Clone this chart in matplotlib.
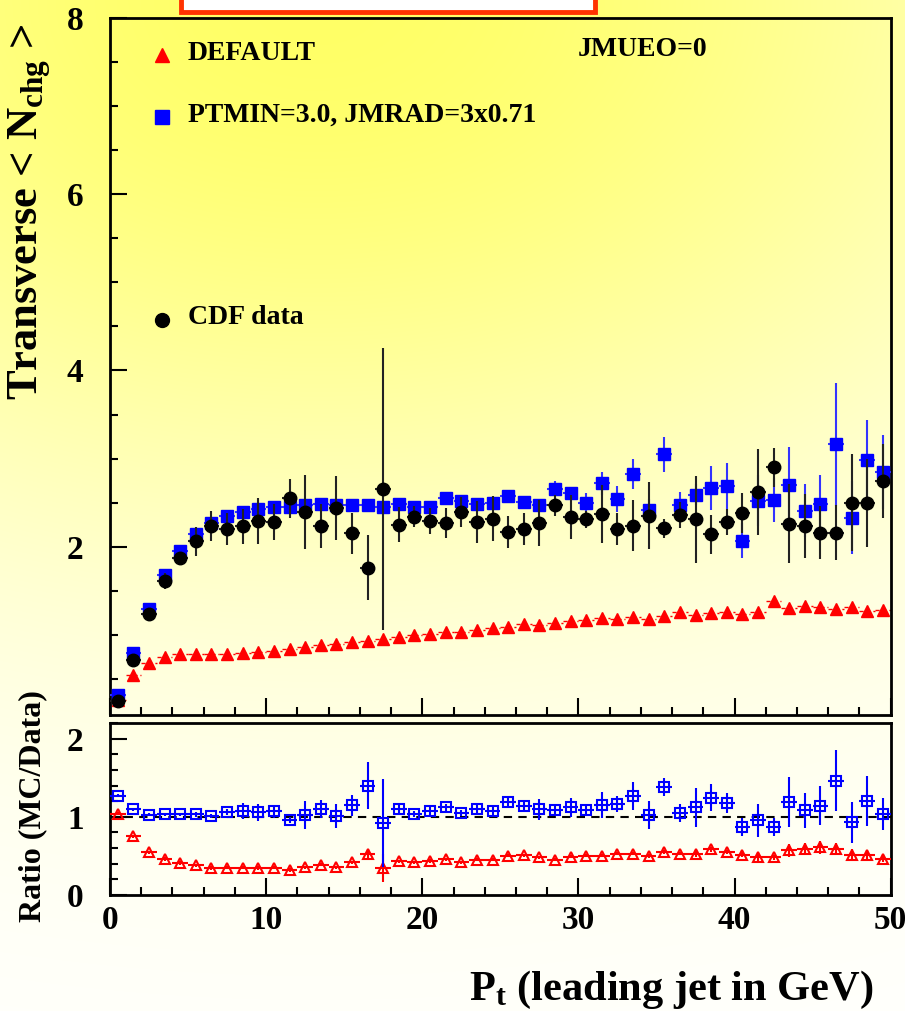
import numpy as np
import matplotlib
matplotlib.use("Agg")
import matplotlib.pyplot as plt
from matplotlib.patches import Rectangle
from matplotlib.ticker import MultipleLocator

plt.rcParams['font.family'] = ['Liberation Serif', 'DejaVu Serif']
plt.rcParams['font.weight'] = 'bold'
plt.rcParams['mathtext.fontset'] = 'custom'
plt.rcParams['mathtext.rm'] = 'Liberation Serif:bold'
plt.rcParams['mathtext.bf'] = 'Liberation Serif:bold'
plt.rcParams['mathtext.it'] = 'Liberation Serif:bold'

# bin centres in leading-jet Pt (GeV)
pt = [0.5, 1.5, 2.5, 3.5, 4.5, 5.5, 6.5, 7.5, 8.5, 9.5,
      10.5, 11.5, 12.5, 13.5, 14.5, 15.5, 16.5, 17.5, 18.5, 19.5,
      20.5, 21.5, 22.5, 23.5, 24.5, 25.5, 26.5, 27.5, 28.5, 29.5,
      30.5, 31.5, 32.5, 33.5, 34.5, 35.5, 36.5, 37.5, 38.5, 39.5,
      40.5, 41.5, 42.5, 43.5, 44.5, 45.5, 46.5, 47.5, 48.5, 49.5]

# CDF data
cdf = [0.25, 0.71, 1.24, 1.61, 1.875, 2.06, 2.235, 2.20, 2.23, 2.29,
       2.28, 2.55, 2.39, 2.24, 2.44, 2.15, 1.76, 2.66, 2.25, 2.34,
       2.29, 2.27, 2.39, 2.28, 2.32, 2.17, 2.20, 2.27, 2.47, 2.34,
       2.31, 2.375, 2.20, 2.24, 2.35, 2.21, 2.36, 2.31, 2.14, 2.28,
       2.38, 2.62, 2.90, 2.26, 2.235, 2.16, 2.16, 2.50, 2.50, 2.75]
cdf_err = [0.03, 0.05, 0.04, 0.09, 0.06, 0.16, 0.17, 0.18, 0.20, 0.26,
           0.20, 0.22, 0.42, 0.25, 0.36, 0.23, 0.37, 1.60, 0.20, 0.12,
           0.15, 0.17, 0.17, 0.24, 0.25, 0.18, 0.18, 0.26, 0.12, 0.25,
           0.10, 0.33, 0.18, 0.29, 0.38, 0.11, 0.15, 0.49, 0.22, 0.15,
           0.23, 0.49, 0.22, 0.45, 0.36, 0.30, 0.31, 0.55, 0.50, 0.42]

# PTMIN=3.0, JMRAD=3x0.71
tuned = [0.32, 0.79, 1.29, 1.68, 1.95, 2.14, 2.27, 2.35, 2.39, 2.43,
         2.455, 2.45, 2.47, 2.48, 2.47, 2.47, 2.47, 2.45, 2.48, 2.455,
         2.455, 2.55, 2.52, 2.48, 2.50, 2.57, 2.51, 2.47, 2.66, 2.61,
         2.50, 2.72, 2.54, 2.83, 2.42, 3.05, 2.47, 2.59, 2.67, 2.69,
         2.07, 2.52, 2.53, 2.70, 2.41, 2.485, 3.16, 2.33, 2.985, 2.85]
tuned_err = [0.02, 0.02, 0.02, 0.02, 0.02, 0.02, 0.03, 0.03, 0.03, 0.03,
             0.03, 0.03, 0.03, 0.03, 0.03, 0.03, 0.03, 0.03, 0.04, 0.04,
             0.04, 0.05, 0.05, 0.05, 0.05, 0.05, 0.05, 0.06, 0.085, 0.07,
             0.11, 0.13, 0.15, 0.17, 0.12, 0.20, 0.15, 0.12, 0.25, 0.26,
             0.20, 0.29, 0.25, 0.43, 0.30, 0.33, 0.70, 0.41, 0.45, 0.42]

# DEFAULT
default = [0.26, 0.54, 0.675, 0.75, 0.78, 0.785, 0.785, 0.785, 0.79, 0.80,
           0.82, 0.84, 0.86, 0.88, 0.90, 0.92, 0.93, 0.955, 0.975, 1.00,
           1.01, 1.03, 1.035, 1.055, 1.075, 1.09, 1.12, 1.11, 1.13, 1.155,
           1.17, 1.19, 1.175, 1.20, 1.185, 1.215, 1.26, 1.23, 1.25, 1.26,
           1.235, 1.26, 1.38, 1.30, 1.33, 1.31, 1.295, 1.32, 1.27, 1.28]

# MC / data ratios
ratio_tuned = [1.27, 1.095, 1.026, 1.03, 1.03, 1.03, 1.01, 1.06, 1.077, 1.06,
               1.07, 0.957, 1.02, 1.10, 1.01, 1.15, 1.40, 0.92, 1.10, 1.04,
               1.07, 1.12, 1.05, 1.095, 1.07, 1.19, 1.14, 1.095, 1.086, 1.12,
               1.086, 1.15, 1.16, 1.27, 1.02, 1.38, 1.05, 1.12, 1.245, 1.18,
               0.87, 0.957, 0.87, 1.19, 1.086, 1.14, 1.46, 0.93, 1.20, 1.035]
ratio_tuned_err = [0.02, 0.02, 0.02, 0.02, 0.02, 0.03, 0.03, 0.04, 0.10, 0.11,
                   0.08, 0.04, 0.18, 0.12, 0.15, 0.135, 0.30, 0.56, 0.065, 0.04,
                   0.05, 0.05, 0.04, 0.065, 0.07, 0.08, 0.06, 0.13, 0.05, 0.12,
                   0.05, 0.17, 0.10, 0.18, 0.18, 0.12, 0.11, 0.25, 0.17, 0.13,
                   0.12, 0.21, 0.11, 0.315, 0.225, 0.25, 0.39, 0.26, 0.32, 0.20]
ratio_default = [1.04, 0.75, 0.545, 0.46, 0.41, 0.38, 0.345, 0.35, 0.35, 0.345,
                 0.35, 0.32, 0.355, 0.39, 0.355, 0.42, 0.53, 0.345, 0.43, 0.42,
                 0.435, 0.455, 0.42, 0.45, 0.45, 0.50, 0.507, 0.485, 0.45, 0.49,
                 0.50, 0.50, 0.53, 0.53, 0.50, 0.55, 0.53, 0.53, 0.585, 0.55,
                 0.515, 0.48, 0.48, 0.57, 0.59, 0.61, 0.59, 0.515, 0.51, 0.465]
ratio_default_err = [0.02, 0.02, 0.02, 0.02, 0.02, 0.02, 0.02, 0.02, 0.02, 0.02,
                     0.02, 0.02, 0.02, 0.02, 0.02, 0.02, 0.06, 0.18, 0.02, 0.02,
                     0.02, 0.02, 0.02, 0.02, 0.02, 0.02, 0.02, 0.02, 0.02, 0.02,
                     0.02, 0.02, 0.02, 0.02, 0.03, 0.02, 0.02, 0.05, 0.03, 0.03,
                     0.03, 0.04, 0.03, 0.08, 0.08, 0.08, 0.08, 0.07, 0.06, 0.04]

W, H = 905, 1011
fig = plt.figure(figsize=(W / 100, H / 100), dpi=100)


def fx(x):
    return x / W


def fy(y):
    return 1 - y / H


# yellow slide background
bg = fig.add_axes([0, 0, 1, 1], zorder=-10)
gx, gy = np.meshgrid(np.linspace(0, 1, W), np.linspace(0, 1, H))
s = np.exp(-((gx - 0.35) / 0.9) ** 2 - (gy / 0.55) ** 2)
img = np.ones((H, W, 3))
img[..., 2] = 1 - 0.6 * s
bg.imshow(img, aspect='auto', extent=[0, 1, 0, 1])
bg.axis('off')

# box from the slide header
fig.patches.append(Rectangle((fx(181), fy(12)), fx(414), 0.05, transform=fig.transFigure,
                             facecolor='white', edgecolor='#FF3300', linewidth=3.5, zorder=5))

ax = fig.add_axes([fx(110), fy(715), fx(780.7), fy(18) - fy(715)])
ax2 = fig.add_axes([fx(110), fy(895), fx(780.7), fy(723) - fy(895)])

x = np.array(pt)

# top panel
ax.hlines(default, x - 0.5, x + 0.5, colors='red', linestyles=(0, (3, 2)), linewidth=1, zorder=2)
ax.plot(x, default, '^', color='red', markersize=8, zorder=3)
ax.errorbar(x, tuned, yerr=tuned_err, xerr=0.5, fmt='s', color='blue', markersize=9,
            ecolor='#3333ff', elinewidth=1.5, capsize=0, zorder=4)
ax.errorbar(x, cdf, yerr=cdf_err, xerr=0.5, fmt='o', color='black', markersize=9,
            ecolor='#222222', elinewidth=1.5, capsize=0, zorder=5)

ax.set_xlim(0, 50)
ax.set_ylim(0.09, 8)
ax.yaxis.set_major_locator(MultipleLocator(2))
ax.yaxis.set_minor_locator(MultipleLocator(0.5))
ax.set_yticks([2, 4, 6, 8])
ax.tick_params(labelbottom=False)

# ratio panel
ax2.axhline(1.0, color='black', linestyle=(0, (4, 3)), linewidth=1.5, zorder=1)
ax2.errorbar(x, ratio_default, yerr=ratio_default_err, xerr=0.5, fmt='^', color='red',
             markersize=6.5, markerfacecolor='none', markeredgewidth=1.5, elinewidth=1.5,
             capsize=0, zorder=3)
ax2.errorbar(x, ratio_tuned, yerr=ratio_tuned_err, xerr=0.5, fmt='s', color='blue',
             markersize=6.5, markerfacecolor='none', markeredgewidth=1.5, elinewidth=1.5,
             capsize=0, zorder=4)
ax2.set_xlim(0, 50)
ax2.set_ylim(0, 2.2)
ax2.yaxis.set_major_locator(MultipleLocator(1))
ax2.yaxis.set_minor_locator(MultipleLocator(0.2))

for a in (ax, ax2):
    a.set_facecolor('none')
    a.xaxis.set_major_locator(MultipleLocator(10))
    a.xaxis.set_minor_locator(MultipleLocator(2))
    a.tick_params(which='both', direction='in', top=False, right=False, width=1.5,
                  labelsize=24, color='black')
    a.tick_params(which='major', length=12)
    a.tick_params(which='minor', length=6)
    a.tick_params(axis='y', pad=19)
    a.tick_params(axis='x', pad=7)
    for sp in a.spines.values():
        sp.set_linewidth(2)
    for lbl in a.get_xticklabels() + a.get_yticklabels():
        lbl.set_fontweight('bold')

# legend entries
legend_rows = [(55, '^', 'red', 'DEFAULT'),
               (117, 's', 'blue', 'PTMIN=3.0, JMRAD=3x0.71'),
               (320, 'o', 'black', 'CDF data')]
for yy, mk, col, txt in legend_rows:
    fig.lines.append(plt.Line2D([fx(162)], [fy(yy)], marker=mk, color=col, markersize=10,
                                linestyle='none', transform=fig.transFigure))
    fig.text(fx(188), fy(yy - 2), txt, ha='left', va='center', fontsize=20, fontweight='bold')
fig.text(fx(578), fy(50), 'JMUEO=0', ha='left', va='center', fontsize=20, fontweight='bold')

# axis titles
fig.text(fx(30), fy(212), r'Transverse < N$_{\mathbf{chg}}$ >', rotation=90,
         ha='center', va='center', fontsize=32, fontweight='bold')
fig.text(fx(33), fy(806), 'Ratio (MC/Data)', rotation=90,
         ha='center', va='center', fontsize=23, fontweight='bold')
fig.text(fx(873), fy(1000), r'P$_{\mathbf{t}}$ (leading jet in GeV)', ha='right',
         va='baseline', fontsize=30.5, fontweight='bold')

fig.savefig('out.png', dpi=100)
